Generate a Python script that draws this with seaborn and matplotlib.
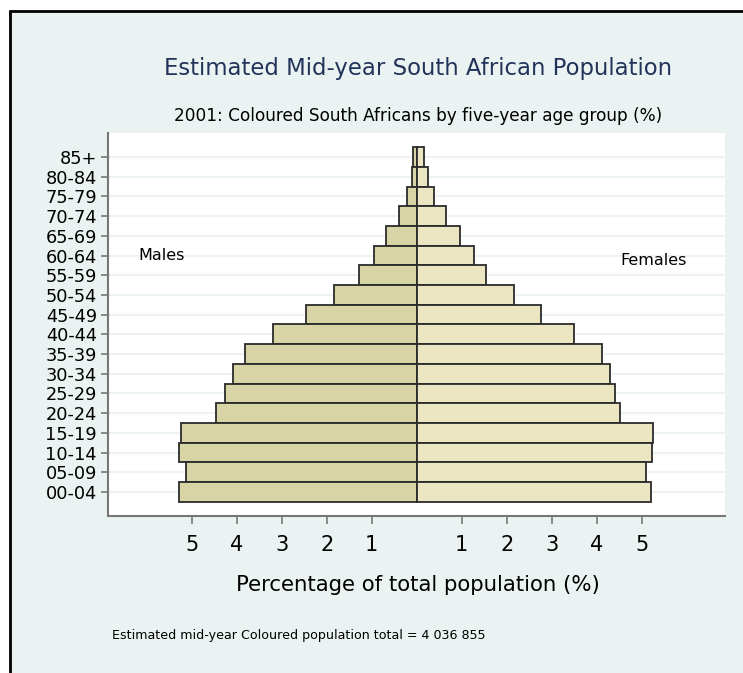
import pandas as pd
import matplotlib.pyplot as plt
import matplotlib.patches as mpatches
import seaborn as sns

# Age groups, top of pyramid first
age_groups = ["85+", "80-84", "75-79", "70-74", "65-69", "60-64", "55-59", "50-54", "45-49",
              "40-44", "35-39", "30-34", "25-29", "20-24", "15-19", "10-14", "05-09", "00-04"]
males = [0.09, 0.11, 0.21, 0.39, 0.68, 0.96, 1.28, 1.83, 2.46,
         3.20, 3.82, 4.08, 4.27, 4.45, 5.24, 5.28, 5.13, 5.28]
females = [0.16, 0.24, 0.39, 0.64, 0.96, 1.27, 1.53, 2.16, 2.77,
           3.49, 4.12, 4.30, 4.41, 4.52, 5.26, 5.23, 5.10, 5.20]
x_ticks = [-5, -4, -3, -2, -1, 1, 2, 3, 4, 5]

df = pd.concat([
    pd.DataFrame({"age": age_groups, "pct": [-v for v in males], "sex": "Males"}),
    pd.DataFrame({"age": age_groups, "pct": females, "sex": "Females"}),
])

plt.rcParams['font.family'] = ['DejaVu Sans']

bg = '#eaf2f2'
fig = plt.figure(figsize=(7.43, 6.73), dpi=100, facecolor='white')
# outer frame with light background
fig.patches.append(mpatches.Rectangle((10 / 743, -0.05), 1.1, (673 - 11) / 673 + 0.05,
                                      transform=fig.transFigure, facecolor=bg,
                                      edgecolor='black', linewidth=2, zorder=-10))

ax = fig.add_axes([108 / 743, 157 / 673, 617 / 743, 383 / 673])
ax.set_facecolor('white')

for i in range(len(age_groups)):
    ax.axhline(i, color='#edf2f2', linewidth=1.6, zorder=0)

sns.barplot(data=df, x='pct', y='age', hue='sex', order=age_groups, dodge=False,
            palette={"Males": '#d9d4a6', "Females": '#ebe5c1'}, saturation=1, width=1.0,
            edgecolor='#2b2b2b', linewidth=1.3, legend=False, ax=ax, zorder=2)

ax.set_xlim(-6.86, 6.85)
ax.set_ylim(18.22, -1.22)
ax.set_xticks(x_ticks)
ax.set_xticklabels([str(abs(t)) for t in x_ticks], fontsize=15)
ax.tick_params(axis='x', length=6, width=1.2, color='#777777', pad=8)
ax.tick_params(axis='y', length=5, width=1.2, color='#777777', pad=3, labelsize=12.8)
ax.set_xlabel('')
ax.set_ylabel('')
for side in ['top', 'right']:
    ax.spines[side].set_visible(False)
for side in ['left', 'bottom']:
    ax.spines[side].set_color('#777777')
    ax.spines[side].set_linewidth(1.5)

ax.text(-6.19, 5, 'Males', fontsize=11.5, va='center', ha='left')
ax.text(4.52, 5.25, 'Females', fontsize=11.5, va='center', ha='left')

fig.text(418 / 743, 0.8975, 'Estimated Mid-year South African Population',
         fontsize=16.4, color='#22335a', ha='center', va='center')
fig.text(418 / 743, 0.8276, '2001: Coloured South Africans by five-year age group (%)',
         fontsize=12.2, ha='center', va='center')
fig.text(417.5 / 743, 0.1308, 'Percentage of total population (%)',
         fontsize=15.3, ha='center', va='center')
fig.text(112 / 743, 0.0550, 'Estimated mid-year Coloured population total = 4 036 855',
         fontsize=9.1, ha='left', va='center')

fig.savefig('out.png', dpi=100, facecolor='white')
